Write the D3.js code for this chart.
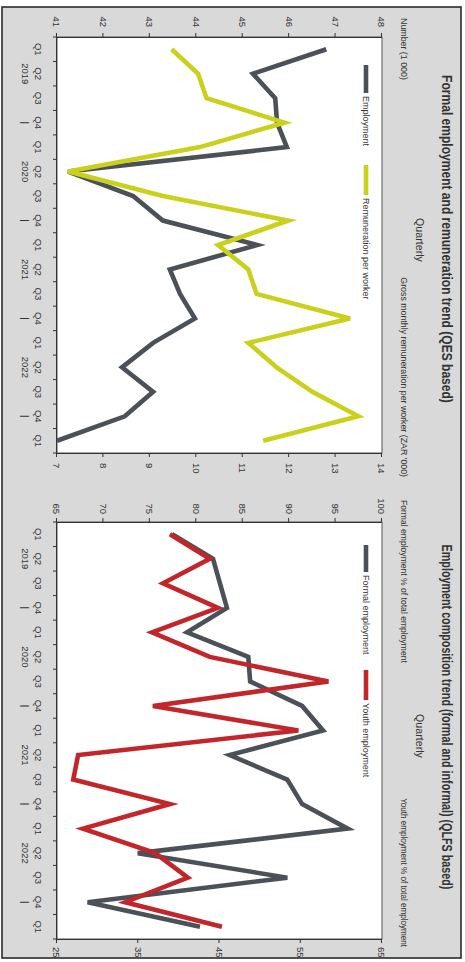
<!DOCTYPE html>
<html><head><meta charset="utf-8">
<script src="https://cdn.jsdelivr.net/npm/d3@7"></script>
<style>
body{margin:0;background:#fff}
svg{display:block}
text{font-family:"Liberation Sans",Arial,sans-serif;fill:#333}
</style>
</head><body>
<svg id="c" width="465" height="962"></svg>
<script>
// ---- data ----
const periods = ["2019Q1","2019Q2","2019Q3","2019Q4","2020Q1","2020Q2","2020Q3","2020Q4","2021Q1","2021Q2","2021Q3","2021Q4","2022Q1","2022Q2","2022Q3","2022Q4","2023Q1"];
const quarterLabels = ["Q1","Q2","Q3","Q4","Q1","Q2","Q3","Q4","Q1","Q2","Q3","Q4","Q1","Q2","Q3","Q4","Q1"];
const yearLabels = ["","2019","","|","","2020","","|","","2021","","|","","2022","","|",""];

const employment   = [46.8,45.22,45.7,45.74,45.95,41.24,42.64,43.28,45.31,43.43,43.65,43.97,43.07,42.4,43.07,42.46,41.0];
const remuneration = [9.47,10.04,10.22,11.9,10.08,7.24,9.28,11.98,10.47,11.12,11.3,13.31,11.12,11.73,12.5,13.49,11.44];

const formalShare = [77.4,81.8,82.55,83.3,79.0,85.6,85.8,91.4,93.65,83.6,89.8,91.4,96.3,73.7,89.8,68.3,80.4];
const youthShare  = [38.9,43.8,38.05,44.8,36.7,43.8,58.4,36.8,54.7,27.6,27.0,38.9,28.2,37.1,41.1,33.4,45.3];

const leftTicksA  = [41,42,43,44,45,46,47,48];
const rightTicksA = [7,8,9,10,11,12,13,14];
const leftTicksB  = [65,70,75,80,85,90,95,100];
const rightTicksB = [25,35,45,55,65];

const titles = ["Formal employment and remuneration trend (QES based)",
                "Employment composition trend (formal and informal) (QLFS based)"];
const subtitle = "Quarterly";
const axisTitlesA = ["Number (1 000)","Gross monthly remuneration per worker (ZAR '000)"];
const axisTitlesB = ["Formal employment % of total employment","Youth employment % of total employment"];
const seriesNamesA = ["Employment","Remuneration per worker"];
const seriesNamesB = ["Formal employment","Youth employment"];

const GRAY="#4b5157", YELLOW="#c9d11c", RED="#c3262a";

// ---- drawing (chart drawn landscape, then rotated 90deg clockwise) ----
const svg = d3.select("#c");
const g = svg.append("g").attr("transform","translate(465,0) rotate(90)");

g.append("rect").attr("x",7).attr("y",4).attr("width",951).attr("height",459)
  .attr("fill","#d9d9d9").attr("stroke","#2a2a2a").attr("stroke-width",1.6);

const TOP=83, BOT=408;

// text squeezed horizontally to a given length (condensed look)
function fitText(str, x, y, len, anchor, size, weight, color){
  const t = g.append("text").attr("x",0).attr("y",0).attr("text-anchor",anchor)
    .style("font-size",size+"px").style("font-weight",weight).attr("fill",color).text(str);
  const nat = t.node().getComputedTextLength();
  const s = Math.min(1, len/nat);
  t.attr("transform",`translate(${x},${y}) scale(${s},1)`);
  return t;
}

function panel(cfg){
  const x = d3.scaleBand().domain(periods).range([cfg.x0,cfg.x1]);
  const yL = d3.scaleLinear().domain(cfg.leftDomain).range([BOT,TOP]);
  const yR = d3.scaleLinear().domain(cfg.rightDomain).range([BOT,TOP]);

  g.append("rect").attr("x",cfg.x0).attr("y",TOP).attr("width",cfg.x1-cfg.x0).attr("height",BOT-TOP)
    .attr("fill","#fff").attr("stroke","#555").attr("stroke-width",1);

  const styleAxis = a => {
    a.select(".domain").attr("stroke","#333");
    a.selectAll(".tick line").attr("stroke","#333");
    a.selectAll("text").style("font-size","9.5px").attr("fill","#333");
  };

  const la = g.append("g").attr("transform",`translate(${cfg.x0},0)`)
    .call(d3.axisLeft(yL).tickValues(cfg.leftTicks).tickFormat(d3.format("d")).tickSize(4).tickPadding(cfg.lpad));
  styleAxis(la);
  const ra = g.append("g").attr("transform",`translate(${cfg.x1},0)`)
    .call(d3.axisRight(yR).tickValues(cfg.rightTicks).tickFormat(d3.format("d")).tickSize(4).tickPadding(cfg.rpad));
  styleAxis(ra);

  const ba = g.append("g").attr("transform",`translate(0,${BOT})`)
    .call(d3.axisBottom(x).tickSize(0).tickFormat((d,i)=>quarterLabels[i]));
  styleAxis(ba);
  ba.selectAll(".tick text").attr("y",22).attr("dy",0).each(function(d,i){
    d3.select(this).append("tspan").attr("x",0).attr("dy",13).text(yearLabels[i]);
  });
  ba.selectAll(".bt").data(d3.range(periods.length+1)).join("line")
    .attr("x1",i=>cfg.x0 + i*x.step()).attr("x2",i=>cfg.x0 + i*x.step())
    .attr("y1",0).attr("y2",4).attr("stroke","#333");

  const cx = (d,i)=>x(periods[i])+x.bandwidth()/2;
  g.append("path").datum(cfg.leftSeries)
    .attr("d",d3.line().x(cx).y(d=>yL(d)))
    .attr("fill","none").attr("stroke",cfg.leftColor).attr("stroke-width",4.6).attr("stroke-linejoin","miter");
  g.append("path").datum(cfg.rightSeries)
    .attr("d",d3.line().x(cx).y(d=>yR(d)))
    .attr("fill","none").attr("stroke",cfg.rightColor).attr("stroke-width",4.6).attr("stroke-linejoin","miter");

  fitText(cfg.title, cfg.titleX, 23, cfg.titleLen, "middle", 15, "bold", "#222");
  fitText(subtitle, cfg.subX, 49, 44, "middle", 11, "normal", "#3a4050");
  fitText(cfg.axisTitles[0], cfg.atL[0], 64, cfg.atL[1], "start", 9, "normal", "#3a4050");
  fitText(cfg.axisTitles[1], cfg.atR[0], 64, cfg.atR[1], "end", 9, "normal", "#3a4050");

  cfg.legend.forEach((L,k)=>{
    g.append("line").attr("x1",L[0]).attr("x2",L[1]).attr("y1",99).attr("y2",99)
      .attr("stroke",k===0?cfg.leftColor:cfg.rightColor).attr("stroke-width",4.6);
    g.append("text").attr("x",L[1]+3).attr("y",102.5).style("font-size","9px")
      .attr("fill","#3a4050").text(cfg.names[k]);
  });
}

panel({x0:37,x1:453,leftDomain:[41,48],rightDomain:[7,14],leftTicks:leftTicksA,rightTicks:rightTicksA,lpad:6,rpad:6,
  leftSeries:employment,rightSeries:remuneration,leftColor:GRAY,rightColor:YELLOW,
  title:titles[0],titleX:239,titleLen:328,subX:240,axisTitles:axisTitlesA,atL:[18,62],atR:[477,200],
  legend:[[65,93],[165,195]],names:seriesNamesA});

panel({x0:522,x1:939,leftDomain:[65,100],rightDomain:[25,65],leftTicks:leftTicksB,rightTicks:rightTicksB,lpad:4,rpad:4,
  leftSeries:formalShare,rightSeries:youthShare,leftColor:GRAY,rightColor:RED,
  title:titles[1],titleX:717,titleLen:345,subX:736,axisTitles:axisTitlesB,atL:[500,163],atR:[947,149],
  legend:[[545,572],[670,700]],names:seriesNamesB});
</script>
</body></html>
